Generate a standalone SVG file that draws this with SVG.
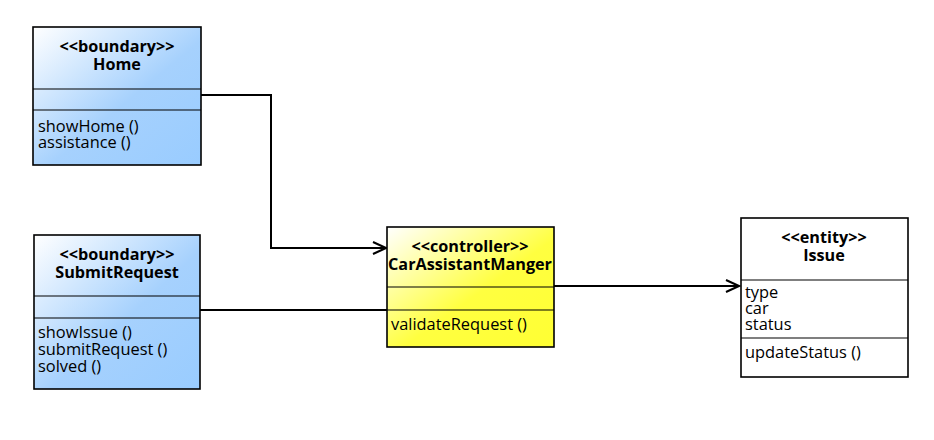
<svg xmlns="http://www.w3.org/2000/svg" width="934" height="440" viewBox="0 0 934 440">
<defs>
<linearGradient id="gBlue" x1="0" y1="0" x2="1" y2="1">
<stop offset="0" stop-color="#ffffff"/>
<stop offset="0.55" stop-color="#a6d1fd"/>
<stop offset="1" stop-color="#99ccff"/>
</linearGradient>
<linearGradient id="gYellow" x1="0" y1="0" x2="1" y2="1">
<stop offset="0" stop-color="#ffffff"/>
<stop offset="0.55" stop-color="#ffff40"/>
<stop offset="1" stop-color="#ffff33"/>
</linearGradient>
<marker id="arr" markerWidth="16" markerHeight="14" refX="14" refY="7" orient="auto" markerUnits="userSpaceOnUse">
<path d="M1,1 L14,7 L1,13" fill="none" stroke="#000" stroke-width="2"/>
</marker>
</defs>
<style>
.box{stroke:#000;stroke-width:1.6}
.div{stroke:#000;stroke-width:1.2}
.t{font-family:"Open Sans","DejaVu Sans",sans-serif;font-size:16.4px;fill:#000}
.h{font-family:"Open Sans","DejaVu Sans",sans-serif;font-size:16.2px;font-weight:bold;fill:#000;text-anchor:middle}
.c{fill:none;stroke:#000;stroke-width:2}
</style>
<g id="connectors">
<path class="c" d="M201,95 H271 V248 H386" marker-end="url(#arr)"/>
<path class="c" d="M200,310 H388"/>
<path class="c" d="M554,286 H739" marker-end="url(#arr)"/>
</g>
<g id="Home">
<rect class="box" x="33" y="27" width="168" height="138" fill="url(#gBlue)"/>
<line class="div" x1="33" y1="89" x2="201" y2="89"/>
<line class="div" x1="33" y1="110" x2="201" y2="110"/>
<text class="h" x="117" y="52">&lt;&lt;boundary&gt;&gt;</text>
<text class="h" x="117" y="70">Home</text>
<text class="t" x="38" y="132">showHome ()</text>
<text class="t" x="38" y="148">assistance ()</text>
</g>
<g id="SubmitRequest">
<rect class="box" x="34" y="235" width="166" height="154" fill="url(#gBlue)"/>
<line class="div" x1="34" y1="296" x2="200" y2="296"/>
<line class="div" x1="34" y1="318" x2="200" y2="318"/>
<text class="h" x="117" y="260">&lt;&lt;boundary&gt;&gt;</text>
<text class="h" x="117" y="278">SubmitRequest</text>
<text class="t" x="38" y="338">showIssue ()</text>
<text class="t" x="38" y="355">submitRequest ()</text>
<text class="t" x="38" y="372">solved ()</text>
</g>
<g id="CarAssistantManger">
<rect class="box" x="387" y="227" width="167" height="120" fill="url(#gYellow)"/>
<line class="div" x1="387" y1="287" x2="554" y2="287"/>
<line class="div" x1="387" y1="310" x2="554" y2="310"/>
<text class="h" x="470" y="252">&lt;&lt;controller&gt;&gt;</text>
<text class="h" x="470" y="270">CarAssistantManger</text>
<text class="t" x="391" y="330">validateRequest ()</text>
</g>
<g id="Issue">
<rect class="box" x="741" y="218" width="167" height="159" fill="#ffffff"/>
<line class="div" x1="741" y1="280" x2="908" y2="280"/>
<line class="div" x1="741" y1="338" x2="908" y2="338"/>
<text class="h" x="824" y="243">&lt;&lt;entity&gt;&gt;</text>
<text class="h" x="824" y="261">Issue</text>
<text class="t" x="745" y="298">type</text>
<text class="t" x="745" y="314">car</text>
<text class="t" x="745" y="330">status</text>
<text class="t" x="745" y="358">updateStatus ()</text>
</g>
</svg>
